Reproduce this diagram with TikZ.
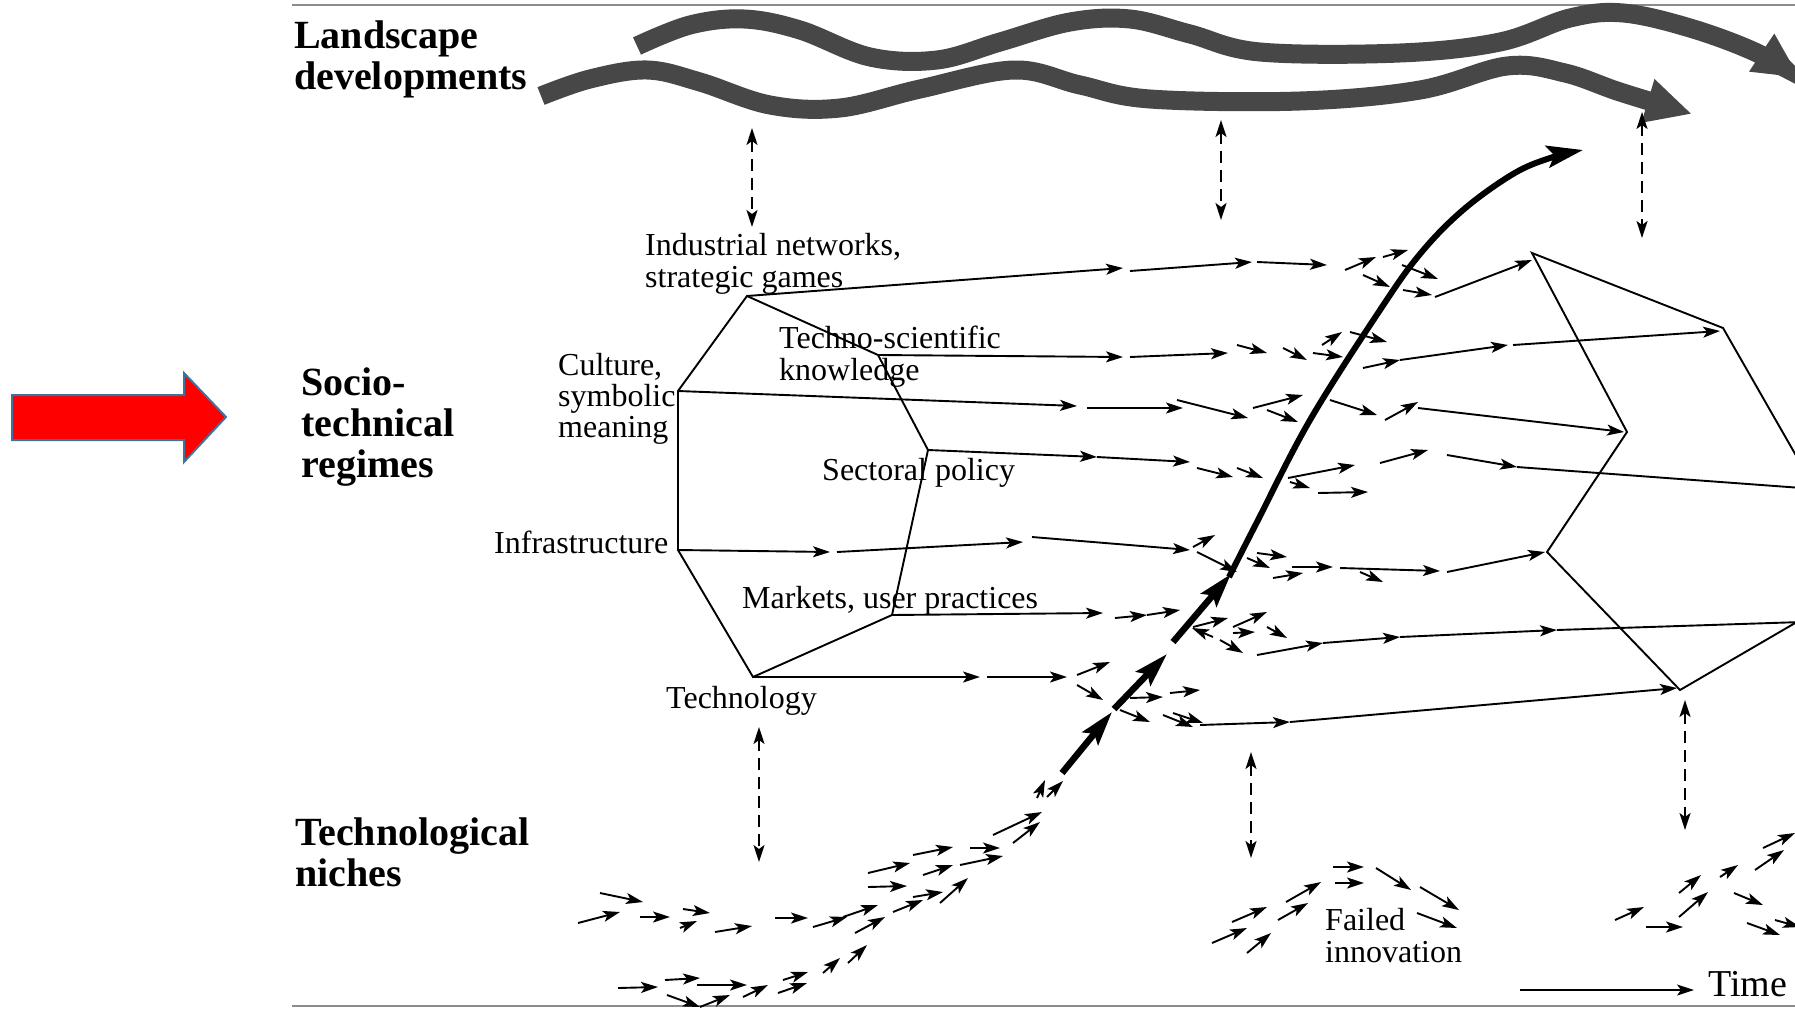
\documentclass[tikz,border=0pt]{standalone}
\usepackage{fontspec}
\setmainfont{Liberation Serif}
\usetikzlibrary{arrows.meta}
\begin{document}
\begin{tikzpicture}[x=1pt,y=-1pt,
  >={Stealth[length=17pt,width=11pt,inset=4pt]},
  flow/.style={line width=1.9pt,->},
  plainline/.style={line width=1.9pt},
  facet/.style={line width=1.9pt},
  link/.style={line width=1.8pt,<->,dash pattern=on 12pt off 7pt},
  wave/.style={line width=19pt,draw=black!72,-{Triangle[length=46pt,width=42pt]}},
  trajseg/.style={line width=6.5pt,-{Stealth[length=34pt,width=20pt,inset=6pt]}},
  traj/.style={line width=6pt,-{Stealth[length=36pt,width=22pt,inset=7pt]}},
  lbl/.style={font=\fontsize{32}{33}\selectfont,inner sep=0pt,anchor=base west},
  head/.style={font=\bfseries\fontsize{40}{41}\selectfont,inner sep=0pt,anchor=base west},
  frame/.style={draw=black!45,line width=2.5pt}]

\useasboundingbox (0,0) rectangle (1795,1009);

% frame lines
\coordinate (ftl) at (292,5);   \coordinate (ftr) at (1795,5);
\coordinate (fbl) at (292,1006); \coordinate (fbr) at (1795,1006);
\draw[frame] (ftl) -- (ftr);
\draw[frame] (fbl) -- (fbr);

% red pointer arrow
\draw[fill=red,draw={rgb,255:red,65;green,113;blue,156},line width=2pt]
  (12,395) -- (184,395) -- (184,373) -- (226,417) -- (184,462) -- (184,440) -- (12,440) -- cycle;

% level headings
\node[head] (land1) at (294,48) {Landscape};
\node[head] (land2) at (294,89) {developments};
\node[head] (reg1) at (301,395) {Socio-};
\node[head] (reg2) at (301,436) {technical};
\node[head] (reg3) at (301,477) {regimes};
\node[head] (nic1) at (295,845) {Technological};
\node[head] (nic2) at (295,886) {niches};

% landscape developments
\draw[wave] plot[smooth,tension=0.6] coordinates {(637,46) (690,25) (744,19) (800,30) (870,57) (937,60) (1000,42) (1070,22) (1130,19) (1190,34) (1260,52) (1400,53) (1500,42) (1570,18) (1623,13) (1690,28) (1755,52) (1800,78)};
\draw[wave] plot[smooth,tension=0.6] coordinates {(541,96) (590,79) (647,70) (700,82) (770,105) (840,108) (920,89) (1014,70) (1080,85) (1150,99) (1300,101) (1420,90) (1507,66) (1565,73) (1620,92) (1692,114)};

% regime front face
\coordinate (Lind) at (747,296);
\coordinate (Ltec) at (878,355);
\coordinate (Lsec) at (928,450);
\coordinate (Lmar) at (892,615);
\coordinate (Ltno) at (753,677);
\coordinate (Linf) at (678,550);
\coordinate (Lcul) at (678,391);
\draw[facet] (Lind) -- (Ltec) -- (Lsec) -- (Lmar) -- (Ltno) -- (Linf) -- (Lcul) -- cycle;

% regime rear face
\coordinate (Rtop) at (1532,253);
\coordinate (Rru) at (1723,328);
\coordinate (Rre) at (1802,466);
\coordinate (Rmid) at (1627,432);
\coordinate (Rlow) at (1547,552);
\coordinate (Rbot) at (1680,690);
\coordinate (Rrl) at (1802,619);
\draw[facet] (Rre) -- (Rru) -- (Rtop) -- (Rmid) -- (Rlow) -- (Rbot) -- (Rrl);

% dimension labels
\node[lbl] (tind1) at (645,255) {Industrial networks,};
\node[lbl] (tind2) at (645,287) {strategic games};
\node[lbl] (ttec1) at (779,348) {Techno-scientific};
\node[lbl] (ttec2) at (779,380) {knowledge};
\node[lbl] (tcul1) at (558,375) {Culture,};
\node[lbl] (tcul2) at (558,406) {symbolic};
\node[lbl] (tcul3) at (558,437) {meaning};
\node[lbl] (tsec) at (822,480) {Sectoral policy};
\node[lbl] (tinf) at (494,553) {Infrastructure};
\node[lbl] (tmar) at (742,608) {Markets, user practices};
\node[lbl] (ttno) at (666,708) {Technology};
\node[lbl] (tfa1) at (1325,930) {Failed};
\node[lbl] (tfa2) at (1325,962) {innovation};

% regime dimensions evolving over time
\draw[flow] (Lind) -- (1123,268);
\draw[flow] (Ltec) -- (1123,357);
\draw[flow] (Lcul) -- (1077,406);
\draw[flow] (Lsec) -- (1097,457);
\draw[flow] (Linf) -- (830,552);
\draw[flow] (Lmar) -- (1103,613);
\draw[flow] (Ltno) -- (980,677);
\foreach \xa/\ya/\xb/\yb in {
  1130/271/1252/262, 1257/262/1327/265, 1345/270/1376/257, 1383/257/1408/250,
  1363/275/1390/287, 1402/265/1438/279, 1403/290/1432/295,
  1130/357/1228/353, 1237/345/1267/353, 1283/348/1307/360, 1313/353/1343/357,
  1322/345/1342/332, 1350/332/1387/342, 1363/368/1400/360, 1400/360/1508/345,
  1087/408/1183/408, 1177/400/1248/418, 1253/408/1303/395, 1267/410/1298/422,
  1330/400/1377/415, 1385/420/1418/402,
  1097/457/1190/462, 1197/468/1233/477, 1237/468/1263/478, 1288/478/1355/465,
  1290/482/1310/488, 1318/493/1368/492, 1380/463/1428/450, 1447/455/1517/467,
  837/552/1023/542, 1032/537/1190/550, 1193/547/1215/535, 1197/552/1237/572,
  1247/558/1270/568, 1257/553/1287/557, 1273/578/1303/573, 1292/567/1333/567,
  1340/568/1440/571, 1360/572/1383/582,
  1115/618/1147/615, 1147/615/1180/610, 1193/627/1228/618, 1213/637/1192/628,
  1233/627/1267/612, 1233/633/1255/632, 1220/640/1243/653, 1267/627/1287/638,
  1257/655/1323/643, 1323/643/1400/637, 1400/637/1557/630,
  987/677/1067/677, 1077/675/1110/662, 1077/685/1103/700, 1130/698/1163/697,
  1170/693/1200/690, 1120/710/1150/722, 1163/715/1193/727, 1173/713/1203/723,
  1200/725/1290/722}
  \draw[flow] (\xa,\ya) -- (\xb,\yb);
\draw[flow] (1435,297) -- ([yshift=-7pt]Rtop);
\draw[flow] (1513,345) -- ([xshift=-3pt,yshift=-3pt]Rru);
\draw[flow] (1418,408) -- ([xshift=-3pt]Rmid);
\draw[flow] (1447,572) -- ([xshift=-2pt]Rlow);
\draw[flow] (1290,722) -- ([xshift=-3pt,yshift=2pt]Rbot);
\draw[plainline] (1517,467) -- (1802,488);
\draw[plainline] (1557,630) -- (1802,622);

% niche experiments
\foreach \xa/\ya/\xb/\yb in {
  578/923/620/912, 600/893/643/902, 640/917/670/917, 683/909/710/913,
  680/928/697/921, 715/932/752/926, 775/918/808/918, 813/927/847/917,
  843/917/878/905, 855/933/885/917, 868/873/910/863, 868/887/907/886,
  893/912/923/900, 913/855/953/847, 923/875/953/865, 913/897/943/892,
  940/903/968/878, 960/865/1003/856, 970/848/1000/848, 993/835/1042/812,
  1013/843/1040/822, 1037/798/1045/780, 1047/797/1063/781,
  618/988/658/987, 665/980/700/978, 697/985/747/985, 667/995/700/1007,
  700/1007/730/995, 743/997/768/985, 783/980/808/972, 778/993/807/983,
  823/973/840/958, 848/963/867/945,
  1212/943/1247/928, 1232/922/1267/907, 1247/953/1271/933, 1278/920/1308/903,
  1286/902/1321/882, 1333/867/1364/867, 1335/883/1364/883, 1376/868/1411/890,
  1420/887/1459/910, 1417/913/1457/928,
  1615/920/1644/907, 1646/927/1683/927, 1679/917/1708/892, 1679/893/1701/875,
  1720/877/1738/865, 1734/893/1763/905, 1747/923/1780/935, 1755/870/1784/850,
  1763/848/1795/833, 1775/920/1800/927}
  \draw[flow] (\xa,\ya) -- (\xb,\yb);

% breakthrough trajectory
\draw[trajseg] (1062,773) -- (1112,712);
\draw[trajseg] (1114,709) -- (1167,654);
\draw[trajseg] (1173,642) -- (1231,574);
\draw[traj] plot[smooth,tension=0.6] coordinates {(1229,577) (1257,522) (1310,420) (1380,310) (1420,254) (1463,210) (1513,174) (1550,158) (1583,150)};

% interactions between levels
\draw[link] (752,128) -- (752,227);
\draw[link] (1221,120) -- (1221,220);
\draw[link] (1642,112) -- (1642,238);
\draw[link] (759,727) -- (759,862);
\draw[link] (1251,752) -- (1251,858);
\draw[link] (1685,700) -- (1685,830);

% time axis
\coordinate (t0) at (1520,990);
\node[font=\fontsize{38}{40}\selectfont,inner sep=0pt,anchor=base west] (ttime) at (1708,996) {Time};
\draw[line width=1.5pt,->] (t0) -- (1694,990);
\end{tikzpicture}
\end{document}
